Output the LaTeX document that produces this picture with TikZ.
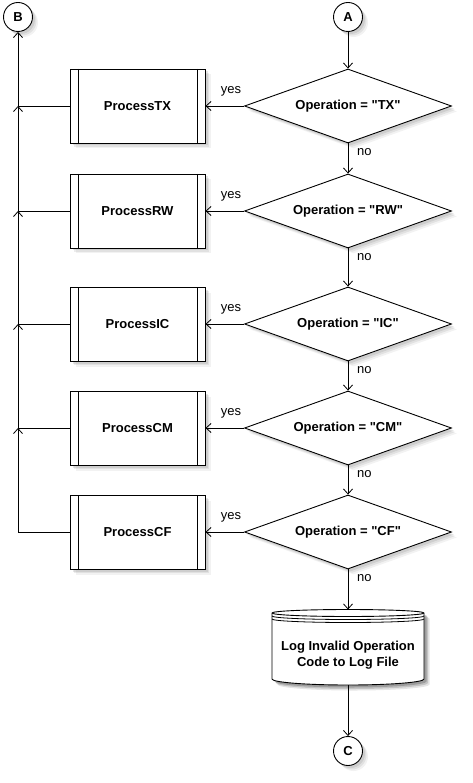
\documentclass[tikz,border=0pt]{standalone}
\usepackage{fontspec}
\setmainfont{Liberation Sans}[Ligatures=TeXOff]
\usetikzlibrary{shapes.geometric,arrows.meta,shadows,calc}
\begin{document}
\begin{tikzpicture}[x=1pt,y=-1pt,
  font=\fontsize{13}{15}\selectfont,
  lbl/.style={font=\fontsize{13}{16}\selectfont\bfseries, text=black},
  shad/.style={drop shadow={shadow xshift=5.5pt,shadow yshift=-5.5pt,opacity=0.10},
               drop shadow={shadow xshift=4pt,shadow yshift=-4pt,opacity=0.15},
               drop shadow={shadow xshift=2.5pt,shadow yshift=-2.5pt,opacity=0.2}},
  decision/.style={diamond,draw,line width=0.9pt,fill=white,shad,minimum width=207pt,minimum height=74pt,aspect=2.8,inner sep=0pt,lbl},
  proc/.style={rectangle,draw,line width=0.9pt,fill=white,shad,minimum width=135pt,minimum height=74pt,inner sep=0pt,lbl,
     path picture={\draw[line width=0.9pt] ([xshift=8pt]path picture bounding box.north west) -- ([xshift=8pt]path picture bounding box.south west);
                   \draw[line width=0.9pt] ([xshift=-8pt]path picture bounding box.north east) -- ([xshift=-8pt]path picture bounding box.south east);}},
  conn/.style={circle,draw,line width=0.9pt,fill=white,shad,minimum size=29pt,inner sep=0pt,lbl},
  flow/.style={line width=0.8pt,-{Straight Barb[length=5pt,width=9pt]}},
  plain/.style={line width=0.8pt},
  yeslbl/.style={font=\fontsize{13}{15}\selectfont,inner sep=0pt},
]
\useasboundingbox (0,0) rectangle (472,783);

% connectors
\node[conn] (A) at (348,17) {A};
\node[conn] (B) at (18,17) {B};
\node[conn] (C) at (348,751) {C};

% decisions
\node[decision] (dTX) at (348,106) {Operation = "TX"};
\node[decision] (dRW) at (348,211) {Operation = "RW"};
\node[decision] (dIC) at (348,324) {Operation = "IC"};
\node[decision] (dCM) at (348,428) {Operation = "CM"};
\node[decision] (dCF) at (348,532) {Operation = "CF"};

% processes
\node[proc] (pTX) at (137.5,106) {ProcessTX};
\node[proc] (pRW) at (137.5,211) {ProcessRW};
\node[proc] (pIC) at (137.5,324) {ProcessIC};
\node[proc] (pCM) at (137.5,428) {ProcessCM};
\node[proc] (pCF) at (137.5,532) {ProcessCF};

% cylinder (log file)
\foreach \s/\o in {5.5/0.10,4/0.15,2.5/0.2}{
\fill[black,opacity=\o,shift={(\s,\s)}] (272,613) -- (272,679) arc[start angle=180,end angle=360,x radius=76pt,y radius=6pt] -- (424,613) arc[start angle=0,end angle=180,x radius=76pt,y radius=3.5pt] -- cycle;
}
\filldraw[fill=white,line width=0.9pt] (272,613) -- (272,679) arc[start angle=180,end angle=360,x radius=76pt,y radius=6pt] -- (424,613) arc[start angle=0,end angle=180,x radius=76pt,y radius=3.5pt] -- cycle;
\draw[line width=0.9pt] (272,613) arc[start angle=180,end angle=360,x radius=76pt,y radius=3.5pt];
\draw[line width=0.8pt] (272,616) arc[start angle=180,end angle=360,x radius=76pt,y radius=3.5pt];
\draw[line width=0.8pt] (272,619) arc[start angle=180,end angle=360,x radius=76pt,y radius=3.5pt];
\node[lbl,align=center,inner sep=0pt] (log) at (348,655) {Log Invalid Operation\\Code to Log File};
\coordinate (logtop) at (348,609.5);
\coordinate (logbot) at (348,685);

% junctions on the left return line
\coordinate (jTX) at (18,106);
\coordinate (jRW) at (18,211);
\coordinate (jIC) at (18,324);
\coordinate (jCM) at (18,428);
\coordinate (jCF) at (18,532);

% main flow
\draw[flow] (A.south) -- (dTX.north);
\draw[flow] (dTX.south) -- (dRW.north);
\draw[flow] (dRW.south) -- (dIC.north);
\draw[flow] (dIC.south) -- (dCM.north);
\draw[flow] (dCM.south) -- (dCF.north);
\draw[flow] (dCF.south) -- (logtop);
\draw[flow] (logbot) -- (C.north);

% yes branches
\foreach \k in {TX,RW,IC,CM,CF}{
  \draw[flow] (d\k.west) -- (p\k.east);
  \node[yeslbl] at ($(d\k.west)+(-13,-15)$) {yes};
  \draw[plain] (p\k.west) -- (j\k);
}
\foreach \k in {TX,RW,IC,CM,CF}{
  \node[yeslbl,anchor=west] at ($(d\k.south)+(9,9)$) {no};
}

% return line
\draw[flow] (jCF) -- (jCM);
\draw[flow] (jCM) -- (jIC);
\draw[flow] (jIC) -- (jRW);
\draw[flow] (jRW) -- (jTX);
\draw[flow] (jTX) -- (B.south);
\end{tikzpicture}
\end{document}
